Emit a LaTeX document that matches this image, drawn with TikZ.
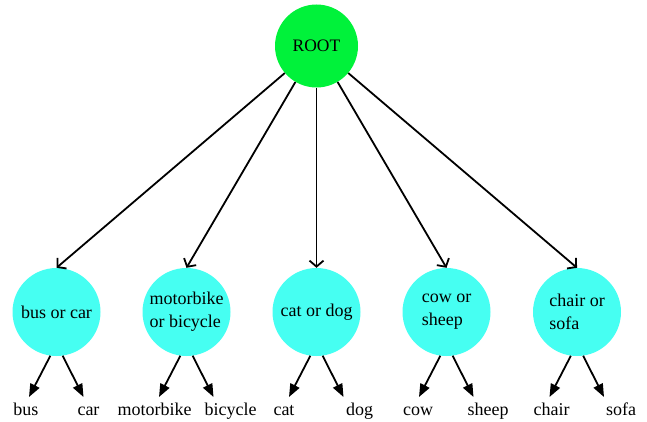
\documentclass[tikz,border=0pt]{standalone}
\usepackage{fontspec}
\setmainfont{Liberation Serif}
\usetikzlibrary{arrows.meta}
\definecolor{rootgreen}{RGB}{0,242,58}
\definecolor{classcyan}{RGB}{70,255,242}

\begin{document}
\begin{tikzpicture}[x=1pt, y=1pt,
	rootnode/.style={circle, fill=rootgreen, minimum size=83pt, inner sep=0pt, font=\fontsize{17.5}{21}\selectfont},
	classnode/.style={circle, fill=classcyan, minimum size=88pt, inner sep=0pt, align=left, font=\fontsize{18}{22.7}\selectfont},
	leaf/.style={anchor=north, inner xsep=0pt, inner ysep=6pt, text height=12pt, text depth=4pt, font=\fontsize{18}{22}\selectfont},
	topedge/.style={line width=1.8pt, -{Straight Barb[length=6pt,width=14pt]}},
	leafedge/.style={line width=1.8pt, -{Triangle[length=13pt,width=10pt]}}]
\useasboundingbox (0,0) rectangle (647,421);
\node[rootnode] (root) at (316.5,375) {ROOT};
\node[classnode] (buscar) at (56.5,109) {bus or car};
\node[classnode] (motorbicycle) at (186.5,109) {motorbike\\or bicycle};
\node[classnode] (catdog) at (316.5,109) {cat or dog};
\node[classnode] (cowsheep) at (446.5,109) {cow or\\sheep};
\node[classnode] (chairsofa) at (577,109) {chair or\\sofa};
\node[leaf] (bus) at (26,24) {bus};
\node[leaf] (car) at (88.5,24) {car};
\node[leaf] (motorbike) at (154.5,24) {motorbike};
\node[leaf] (bicycle) at (230.5,24) {bicycle};
\node[leaf] (cat) at (284,24) {cat};
\node[leaf] (dog) at (359.5,24) {dog};
\node[leaf] (cow) at (418,24) {cow};
\node[leaf] (sheep) at (488,24) {sheep};
\node[leaf] (chair) at (551.5,24) {chair};
\node[leaf] (sofa) at (621,24) {sofa};
\draw[topedge] (root) -- (buscar.north);
\draw[topedge] (root) -- (motorbicycle.north);
\draw[topedge] (root) -- (catdog.north);
\draw[topedge] (root) -- (cowsheep.north);
\draw[topedge] (root) -- (chairsofa.north);
\draw[leafedge] (buscar.-98) -- ([xshift=3pt]bus.north);
\draw[leafedge] (buscar.-82) -- ([xshift=-5pt]car.north);
\draw[leafedge] (motorbicycle.-98) -- ([xshift=4.5pt]motorbike.north);
\draw[leafedge] (motorbicycle.-82) -- ([xshift=-17pt]bicycle.north);
\draw[leafedge] (catdog.-98) -- ([xshift=5pt]cat.north);
\draw[leafedge] (catdog.-82) -- ([xshift=-16pt]dog.north);
\draw[leafedge] (cowsheep.-98) -- ([xshift=1pt]cow.north);
\draw[leafedge] (cowsheep.-82) -- ([xshift=-14.5pt]sheep.north);
\draw[leafedge] (chairsofa.-98) -- ([xshift=-2pt]chair.north);
\draw[leafedge] (chairsofa.-82) -- ([xshift=-17pt]sofa.north);
\end{tikzpicture}
\end{document}
